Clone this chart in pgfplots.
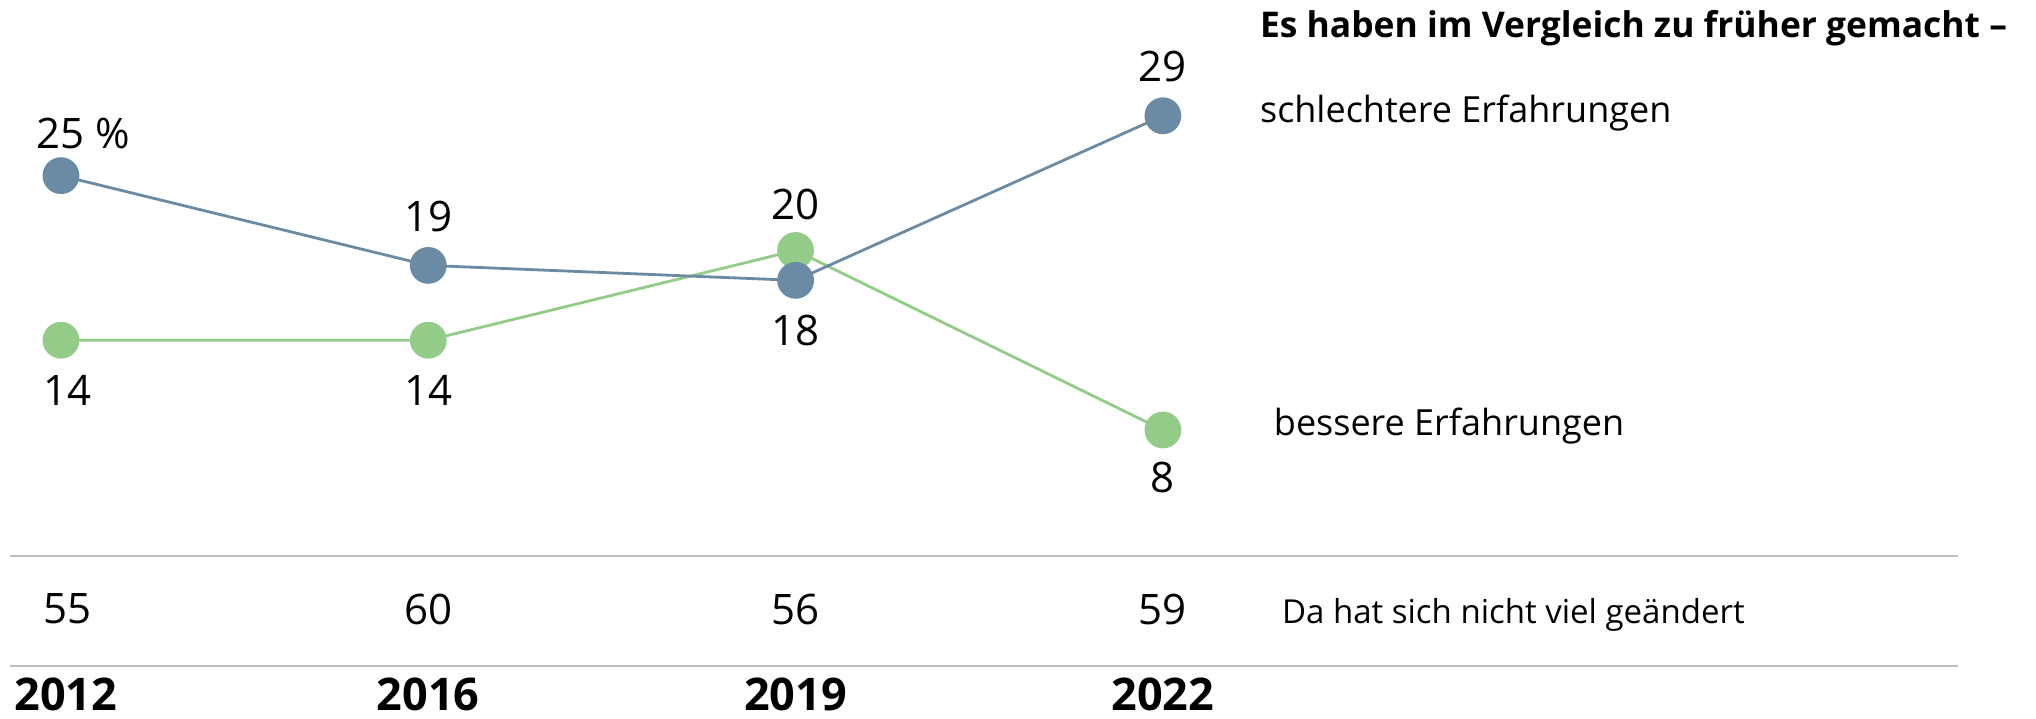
\documentclass[border=0pt]{standalone}
\usepackage{fontspec}
\setmainfont{Open Sans}
\usepackage{pgfplots}
\pgfplotsset{compat=1.18}
\definecolor{cblue}{RGB}{106,139,163}
\definecolor{cgreen}{RGB}{147,203,136}
\definecolor{cgray}{RGB}{190,190,190}
\tikzset{
  lab/.style={inner sep=0pt, outer sep=0pt, font=\fontsize{21}{24}\selectfont, text=black},
  yr/.style={inner sep=0pt, outer sep=0pt, font=\bfseries\fontsize{22.5}{26}\selectfont, text=black},
  txt/.style={inner sep=0pt, outer sep=0pt, anchor=base west, text=black},
}
\begin{document}
\begin{tikzpicture}
\begin{axis}[
  scale only axis, width=1018pt, height=359pt,
  xmin=-0.166, xmax=5.377, ymin=-11.25, ymax=36.74,
  hide axis, clip=false,
]
\path (rel axis cs:0,0) rectangle (rel axis cs:1,1);
% besser
\addplot[cgreen, line width=1.4pt, mark=*, mark size=8.5pt, mark options={draw=none, fill=cgreen}]
  coordinates {(0,14) (1,14) (2,20) (3,8)};
% schlechter
\addplot[cblue, line width=1.4pt, mark=*, mark size=8.5pt, mark options={draw=none, fill=cblue}]
  coordinates {(0,25) (1,19) (2,18) (3,29)};
% rules
\draw[cgray, line width=1.2pt] (rel axis cs:0.0049,0.2256) -- (rel axis cs:0.9617,0.2256);
\draw[cgray, line width=1.2pt] (rel axis cs:0.0049,0.0724) -- (rel axis cs:0.9617,0.0724);
% labels schlechter
\node[lab, yshift=21pt] at (axis cs:0,25) {25\rlap{ \%}};
\node[lab, yshift=24.5pt] at (axis cs:1,19) {19};
\node[lab, yshift=-25pt] at (axis cs:2,18) {18};
\node[lab, yshift=24.5pt] at (axis cs:3,29) {29};
% labels besser
\node[lab, yshift=-25pt, xshift=3.5pt] at (axis cs:0,14) {14};
\node[lab, yshift=-25pt] at (axis cs:1,14) {14};
\node[lab, yshift=23pt] at (axis cs:2,20) {20};
\node[lab, yshift=-24pt] at (axis cs:3,8) {8};
% nicht viel geaendert
\node[lab, xshift=3.5pt] at (axis cs:0,-3.97) {55};
\node[lab] at (axis cs:1,-3.97) {60};
\node[lab] at (axis cs:2,-3.97) {56};
\node[lab] at (axis cs:3,-3.97) {59};
% years
\node[yr, xshift=2.5pt] at (axis cs:0,-9.7) {2012};
\node[yr] at (axis cs:1,-9.7) {2016};
\node[yr] at (axis cs:2,-9.7) {2019};
\node[yr] at (axis cs:3,-9.7) {2022};
% texts
\node[txt, font=\bfseries\fontsize{17.7}{20}\selectfont] at (rel axis cs:0.6189,0.9471) {Es haben im Vergleich zu früher gemacht –};
\node[txt, font=\fontsize{18}{21}\selectfont] at (rel axis cs:0.6189,0.830) {schlechtere Erfahrungen};
\node[txt, font=\fontsize{18}{21}\selectfont] at (rel axis cs:0.6257,0.394) {bessere Erfahrungen};
\node[txt, font=\fontsize{16.5}{19}\selectfont] at (rel axis cs:0.6297,0.1323) {Da hat sich nicht viel geändert};
\end{axis}
\end{tikzpicture}
\end{document}
